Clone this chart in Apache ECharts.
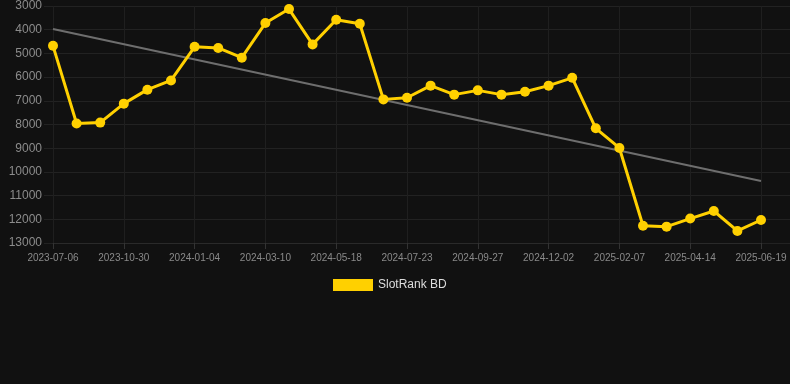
<!DOCTYPE html>
<html>
<head>
    <meta charset="utf-8">
    <script src="https://cdn.jsdelivr.net/npm/echarts@6/dist/echarts.min.js"></script>
</head>
<style>
    *{
        margin:0;
        padding:0;
    }
    body{
        background:#111111;
    }
</style>
<body>
<div id="main" style="width:790px;height:384px;"></div>
<script type="text/javascript">
    // dates (only every 3rd one is shown on the axis)
    var dates = [
        "2023-07-06","2023-08-14","2023-09-22","2023-10-30","2023-11-21","2023-12-13",
        "2024-01-04","2024-01-26","2024-02-17","2024-03-10","2024-04-02","2024-04-25",
        "2024-05-18","2024-06-09","2024-07-01","2024-07-23","2024-08-14","2024-09-05",
        "2024-09-27","2024-10-19","2024-11-10","2024-12-02","2024-12-24","2025-01-15",
        "2025-02-07","2025-03-01","2025-03-23","2025-04-14","2025-05-06","2025-05-28",
        "2025-06-19"
    ];
    var rankBD = [
        4680, 7960, 7920, 7120, 6530, 6140,
        4720, 4770, 5180, 3720, 3130, 4620,
        3580, 3750, 6940, 6870, 6360, 6740,
        6560, 6740, 6620, 6360, 6030, 8160,
        8990, 12270, 12310, 11970, 11650, 12490,
        12030
    ];
    // trend line end points
    var trendStart = 3970;
    var trendEnd = 10380;
    var trend = dates.map(function (d, i) {
        if (i === 0) return trendStart;
        if (i === dates.length - 1) return trendEnd;
        return null;
    });
    var yMin = 3000, yMax = 13000, yStep = 1000;

    var myChart = echarts.init(document.getElementById("main"));

    var option = {
        backgroundColor: '#111111',
        animation: false,
        grid: [
            {left: 53, right: 29, top: 6, bottom: 141},
            {left: 44, right: 0, top: 6, bottom: 141}
        ],
        legend: {
            data: ['SlotRank BD'],
            bottom: 88,
            left: 328,
            itemWidth: 40,
            itemHeight: 12,
            icon: 'rect',
            textStyle: {color: '#dddddd', fontSize: 12, fontFamily: 'Arial'}
        },
        xAxis: [
            {
                type: 'category',
                gridIndex: 0,
                boundaryGap: false,
                data: dates,
                axisLine: {lineStyle: {color: '#2a2a2a'}},
                axisTick: {show: true, interval: 2, length: 6, lineStyle: {color: '#333333'}},
                axisLabel: {interval: 2, color: '#8a8a8a', fontSize: 10, margin: 10, fontFamily: 'Arial'},
                splitLine: {show: true, interval: 2, lineStyle: {color: '#1f1f1f'}}
            },
            {
                type: 'value',
                gridIndex: 1,
                min: 0,
                max: 1,
                show: false
            }
        ],
        yAxis: [
            {
                type: 'value',
                gridIndex: 0,
                inverse: true,
                min: yMin,
                max: yMax,
                interval: yStep,
                axisLine: {show: false},
                axisTick: {show: false},
                axisLabel: {
                    color: '#8c8c8c', fontSize: 12, margin: 11, fontFamily: 'Arial',
                    formatter: function (v) { return String(v); }
                },
                splitLine: {show: false}
            },
            {
                type: 'value',
                gridIndex: 1,
                inverse: true,
                min: yMin,
                max: yMax,
                interval: yStep,
                axisLine: {show: false},
                axisTick: {show: false},
                axisLabel: {show: false},
                splitLine: {show: true, lineStyle: {color: '#222222'}}
            }
        ],
        series: [
            {
                name: 'trend',
                type: 'line',
                xAxisIndex: 0,
                yAxisIndex: 0,
                data: trend,
                connectNulls: true,
                showSymbol: false,
                symbol: 'none',
                lineStyle: {color: '#6e6e6e', width: 2},
                z: 2
            },
            {
                name: 'SlotRank BD',
                type: 'line',
                xAxisIndex: 0,
                yAxisIndex: 0,
                data: rankBD,
                symbol: 'circle',
                symbolSize: 10,
                itemStyle: {color: '#FFD000'},
                lineStyle: {color: '#FFD000', width: 3},
                z: 3
            }
        ]
    };

    myChart.setOption(option);
</script>
</body>
</html>
